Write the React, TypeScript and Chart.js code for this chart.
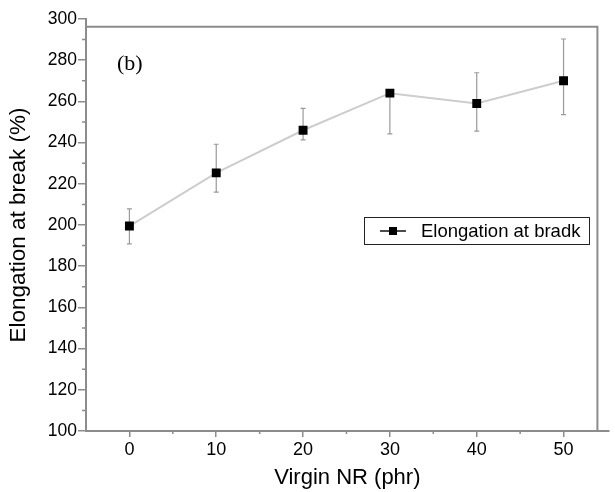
import React, { useEffect, useRef } from 'react';
import { Chart, registerables } from 'chart.js';

Chart.register(...registerables);

// ---- data ----
const xValues = [0, 10, 20, 30, 40, 50];
const elongation = [199.5, 225.3, 246, 264, 259, 270];
const errLow = [190.8, 216, 241.3, 244.2, 245.6, 253.6];
const errHigh = [207.8, 239.2, 256.6, 264, 273.9, 290.3];
const xTicks = [0, 10, 20, 30, 40, 50];
const xMinorTicks = [5, 15, 25, 35, 45];
const yMinorTicks = [110, 130, 150, 170, 190, 210, 230, 250, 270, 290];
const seriesLabel = 'Elongation at bradk';
const panelLabel = '(b)';
const xTitle = 'Virgin NR (phr)';
const yTitle = 'Elongation at break (%)';

const SANS = '"Liberation Sans", Arial, sans-serif';
const SERIF = '"Liberation Serif", "Times New Roman", serif';
const AXIS = '#8c8c8c';

const errorBarPlugin = {
  id: 'errorBars',
  beforeDatasetsDraw(chart: any) {
    const { ctx, scales } = chart;
    const x = scales.x;
    const y = scales.y;
    ctx.save();
    ctx.strokeStyle = '#9a9a9a';
    ctx.lineWidth = 1.2;
    xValues.forEach((v, i) => {
      const px = x.getPixelForValue(v);
      const top = y.getPixelForValue(errHigh[i]);
      const bot = y.getPixelForValue(errLow[i]);
      ctx.beginPath();
      ctx.moveTo(px, top);
      ctx.lineTo(px, bot);
      if (errHigh[i] > elongation[i]) {
        ctx.moveTo(px - 2.5, top);
        ctx.lineTo(px + 2.5, top);
      }
      ctx.moveTo(px - 2.5, bot);
      ctx.lineTo(px + 2.5, bot);
      ctx.stroke();
    });
    ctx.restore();
  },
};

const decorPlugin = {
  id: 'decor',
  afterDraw(chart: any) {
    const { ctx, scales, chartArea } = chart;
    const x = scales.x;
    const y = scales.y;
    ctx.save();
    // minor ticks
    ctx.strokeStyle = AXIS;
    ctx.lineWidth = 1.5;
    ctx.beginPath();
    yMinorTicks.forEach((v) => {
      const py = y.getPixelForValue(v);
      ctx.moveTo(chartArea.left - 4, py);
      ctx.lineTo(chartArea.left, py);
    });
    xMinorTicks.forEach((v) => {
      const px = x.getPixelForValue(v);
      ctx.moveTo(px, chartArea.bottom);
      ctx.lineTo(px, chartArea.bottom + 3);
    });
    ctx.stroke();

    // frame (top and right)
    const fx = x.getPixelForValue(53.9);
    const fy = y.getPixelForValue(296.2);
    ctx.lineWidth = 2;
    ctx.beginPath();
    ctx.moveTo(chartArea.left, fy);
    ctx.lineTo(fx, fy);
    ctx.lineTo(fx, chartArea.bottom);
    ctx.stroke();

    // panel label
    ctx.fillStyle = '#000';
    ctx.font = `22px ${SERIF}`;
    ctx.textAlign = 'left';
    ctx.textBaseline = 'middle';
    ctx.fillText(panelLabel, 117, 64);

    // legend
    const lx = 364, ly = 217, lw = 225, lh = 27;
    ctx.fillStyle = '#fff';
    ctx.fillRect(lx, ly, lw, lh);
    ctx.strokeStyle = '#222';
    ctx.lineWidth = 1;
    ctx.strokeRect(lx + 0.5, ly + 0.5, lw, lh);
    const cy = ly + lh / 2 + 0.5;
    ctx.strokeStyle = '#111';
    ctx.lineWidth = 1.5;
    ctx.beginPath();
    ctx.moveTo(380, cy);
    ctx.lineTo(406, cy);
    ctx.stroke();
    ctx.fillStyle = '#000';
    ctx.fillRect(389, cy - 4, 8, 8);
    ctx.font = `18.5px ${SANS}`;
    ctx.textBaseline = 'middle';
    ctx.fillText(seriesLabel, 421, cy + 1);
    ctx.restore();
  },
};

export default function App() {
  const ref = useRef<HTMLCanvasElement | null>(null);

  useEffect(() => {
    if (!ref.current) return;
    const chart = new Chart(ref.current, {
      type: 'line',
      data: {
        datasets: [
          {
            label: seriesLabel,
            data: xValues.map((v, i) => ({ x: v, y: elongation[i] })),
            borderColor: '#cdcdcd',
            borderWidth: 2,
            pointStyle: 'rect',
            pointRadius: 6.3,
            pointBackgroundColor: '#000',
            pointBorderColor: '#000',
            pointBorderWidth: 0,
            tension: 0,
          },
        ],
      },
      options: {
        animation: false,
        responsive: false,
        layout: { padding: { top: 19, right: 2, left: 0, bottom: 0 } },
        plugins: {
          legend: { display: false },
          tooltip: { enabled: false },
        },
        scales: {
          x: {
            type: 'linear',
            min: -5,
            max: 55.2,
            afterBuildTicks: (s: any) => {
              s.ticks = xTicks.map((v) => ({ value: v }));
            },
            afterFit: (s: any) => {
              s.height = 61;
            },
            grid: { drawOnChartArea: false, tickLength: 6, color: AXIS, lineWidth: 1.5 },
            border: { color: AXIS, width: 2 },
            ticks: {
              color: '#000',
              font: { family: SANS, size: 18 },
              padding: 2,
              maxRotation: 0,
              autoSkip: false,
            },
            title: {
              display: true,
              text: xTitle,
              color: '#000',
              font: { family: SANS, size: 22 },
              padding: { top: 0, bottom: 1 },
            },
          },
          y: {
            min: 100,
            max: 300,
            afterFit: (s: any) => {
              s.width = 86;
            },
            grid: { drawOnChartArea: false, tickLength: 8, color: AXIS, lineWidth: 1.5 },
            border: { color: AXIS, width: 2 },
            ticks: {
              stepSize: 20,
              color: '#000',
              font: { family: SANS, size: 17.5 },
              padding: 1,
            },
            title: {
              display: true,
              text: yTitle,
              color: '#000',
              font: { family: SANS, size: 22.5 },
              padding: { top: 5, bottom: 0 },
            },
          },
        },
      },
      plugins: [errorBarPlugin, decorPlugin],
    } as any);
    return () => chart.destroy();
  }, []);

  return (
    <div style={{ position: 'fixed', left: 0, top: 0, width: 615, height: 492, background: '#fff' }}>
      <canvas ref={ref} width={615} height={492} />
    </div>
  );
}
